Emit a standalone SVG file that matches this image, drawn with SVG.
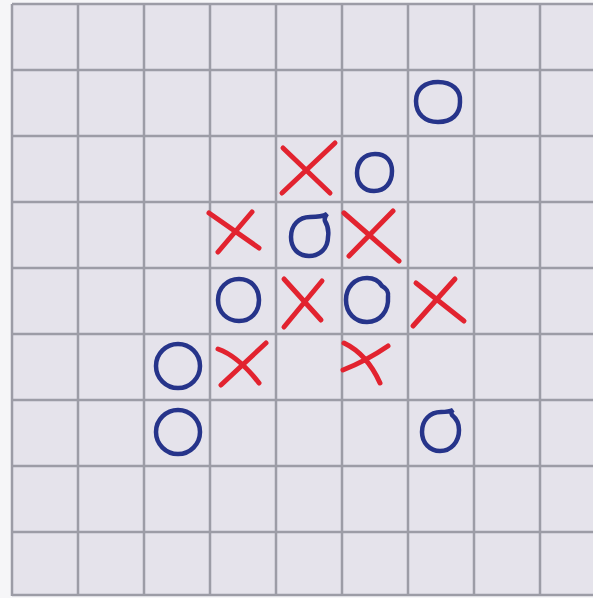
<svg xmlns="http://www.w3.org/2000/svg" width="593" height="598" viewBox="0 0 593 598">
<style>
.g{stroke:#9c9ca6;stroke-width:2.5;fill:none}
.x{stroke:#e2232f;stroke-width:5;fill:none;stroke-linecap:round}
.o{stroke:#26348a;stroke-width:4.5;fill:none}
</style>
<rect width="593" height="598" fill="#f6f6f8"/>
<rect x="12" y="4" width="581" height="592" fill="#e5e3eb"/>
<g id="grid" class="g">
<path d="M12 4V596M78 4V596M144 4V596M210 4V596M276 4V596M342 4V596M408 4V596M474 4V596M540 4V596"/>
<path d="M12 4H593M12 70H593M12 136H593M12 202H593M12 268H593M12 334H593M12 400H593M12 466H593M12 532H593M12 595H593"/>
</g>
<g id="marks-o" class="o">
<path d="M416 101c0-12 9-19 22-19c14 0 23 8 22 20c0 12-8 20-22 20c-13 0-22-8-22-21z"/>
<path d="M357 173c0-11 7-19 18-19c11 0 17 7 17 17c0 12-7 20-18 20c-10 0-17-7-17-18z"/>
<path d="M291 237c0-12 8-20 19-20c6 0 12 0 17-3c-2 3-3 4-2 7c3 5 4 10 3 16c0 11-8 19-19 19c-11 0-18-8-18-19z"/>
<path d="M218 300c0-12 9-21 21-21c12 0 20 9 20 21c0 12-8 21-20 21c-12 0-21-9-21-21z"/>
<path d="M346 300c0-13 9-22 21-22c7 0 12 3 15 8c4 2 7 6 6 11c1 14-8 25-21 25c-12 0-21-9-21-22z"/>
<ellipse cx="178" cy="366" rx="22" ry="22"/>
<ellipse cx="178" cy="432" rx="22" ry="22"/>
<path d="M422 432c0-12 8-20 19-20c4 0 8 0 12-2c-2 2-2 3-1 5c5 4 7 9 7 15c0 12-8 21-19 21c-10 0-18-8-18-19z"/>
</g>
<g id="marks-x" class="x">
<path d="M283 148L330 193M335 143L282 193"/>
<path d="M209 213L259 248M252 212L218 252"/>
<path d="M344 213L399 261M393 211L349 256"/>
<path d="M284 279L321 320M322 281L284 327"/>
<path d="M416 283L464 321M455 279L413 326"/>
<path d="M218 349Q238 356 259 383M266 343L221 385"/>
<path d="M344 343Q367 354 380 383M388 346Q366 361 343 370"/>
</g>
</svg>
